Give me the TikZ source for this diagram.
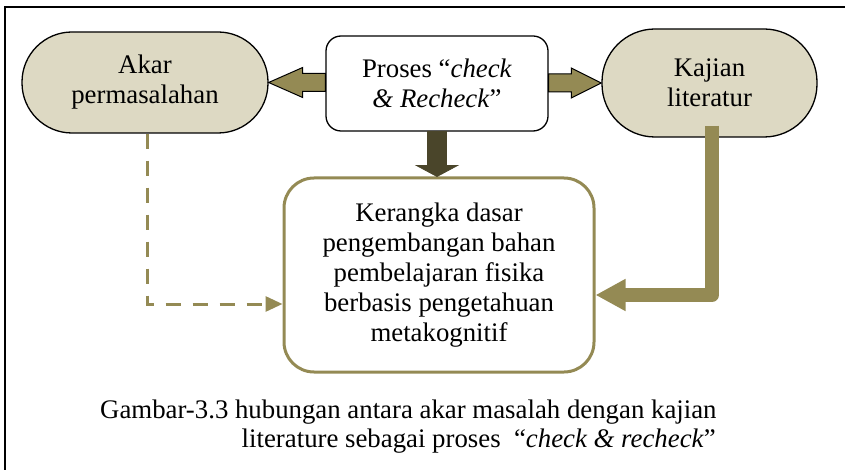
\documentclass[tikz,border=0pt]{standalone}
\usepackage{fontspec}
\setmainfont{Liberation Serif}
\usetikzlibrary{arrows.meta,calc}
\definecolor{beige}{HTML}{DDD9C3}
\definecolor{olive}{HTML}{948A54}
\definecolor{darkolive}{HTML}{4A452A}
\begin{document}
\begin{tikzpicture}[x=1pt,y=-1pt,
  every node/.style={font=\fontsize{26.8}{30}\selectfont, align=center, inner sep=0pt},
  pillbox/.style={draw=black, line width=1.3pt, fill=beige},
  procbox/.style={draw=black, line width=1.3pt, fill=white, rounded corners=15pt},
  mainbox/.style={draw=olive, line width=3pt, fill=white, rounded corners=30pt},
  blockarrow/.style={fill=olive, draw=black, line width=1pt, line join=miter},
  downarrow/.style={fill=darkolive, draw=darkolive, line width=0.8pt},
  thickconn/.style={draw=olive, line width=14pt, line join=round,
    -{Triangle[length=30pt,width=30pt]}},
  dashconn/.style={draw=olive, line width=3pt, dash pattern=on 15pt off 12pt,
    -{Triangle[length=17pt,width=15pt]}},
]
\useasboundingbox (0,0) rectangle (845,470);

% frame lines
\draw[line width=1.5pt] (5,470) -- (5,7) -- (845,7);

% boxes
\node[pillbox, rounded corners=50pt, minimum width=246pt, minimum height=101pt]
  (akar) at (145,82.5) {Akar\\permasalahan};
\node[procbox, minimum width=222pt, minimum height=95pt]
  (proses) at (437,83.5) {Proses “\textit{check}\\\textit{\& Recheck}”};
\node[pillbox, rounded corners=53pt, minimum width=215pt, minimum height=108pt]
  (kajian) at (709.5,83) {Kajian\\literatur};
\node[mainbox, minimum width=310pt, minimum height=194pt]
  (kerangka) at (439,275) {Kerangka dasar\\pengembangan bahan\\pembelajaran fisika\\berbasis pengetahuan\\metakognitif};

% block arrow: proses -> akar
\draw[blockarrow] let \p1=(proses.west), \p2=(akar.east) in
  (\x1,\y2+9pt) -- (\x2+34pt,\y2+9pt) -- (\x2+34pt,\y2+15pt) -- (\x2,\y2)
  -- (\x2+34pt,\y2-15pt) -- (\x2+34pt,\y2-9pt) -- (\x1,\y2-9pt) -- cycle;

% block arrow: proses -> kajian
\draw[blockarrow] let \p1=(proses.east), \p2=(kajian.west) in
  (\x1,\y2+9pt) -- (\x2-30pt,\y2+9pt) -- (\x2-30pt,\y2+15pt) -- (\x2,\y2)
  -- (\x2-30pt,\y2-15pt) -- (\x2-30pt,\y2-9pt) -- (\x1,\y2-9pt) -- cycle;

% block arrow: proses -> kerangka
\draw[downarrow] let \p1=(proses.south), \p2=(kerangka.north) in
  (\x1-9.5pt,\y1) -- (\x1-9.5pt,\y2+11pt) -- (\x1-20.5pt,\y2+11pt) -- (\x1,\y2)
  -- (\x1+20.5pt,\y2+11pt) -- (\x1+9.5pt,\y2+11pt) -- (\x1+9.5pt,\y1) -- cycle;

% kajian -> kerangka
\draw[thickconn] ([xshift=2.5pt,yshift=12pt]kajian.south) |- ([yshift=-20pt]kerangka.east);

% akar -> kerangka (dashed)
\draw[dashconn] ([xshift=2pt]akar.south) |- ([yshift=-29pt]kerangka.west);

% caption
\node[anchor=base west] (cap1) at (100,418) {Gambar-3.3 hubungan antara akar masalah dengan kajian};
\node[anchor=base east] (cap2) at (716,447) {literature sebagai proses\ \ “\textit{check \& recheck}”};
\end{tikzpicture}
\end{document}
